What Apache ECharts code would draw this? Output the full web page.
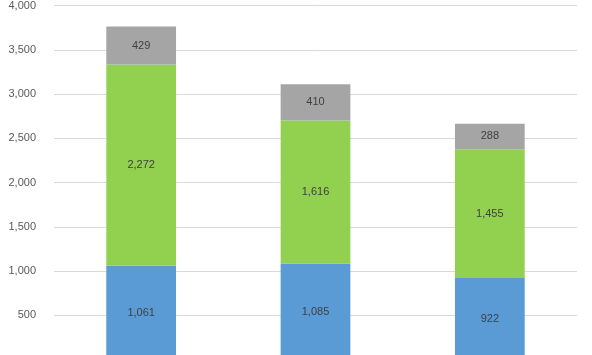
<!DOCTYPE html>
<html>
<head>
<meta charset="utf-8">
<script src="https://cdn.jsdelivr.net/npm/echarts@6/dist/echarts.min.js"></script>
<style>html,body{margin:0;padding:0;background:#fff;overflow:hidden;width:592px;height:355px;}#c{width:592px;height:364px;}</style>
</head>
<body>
<div id="c"></div>
<script>
var categories = ['A', 'B', 'C'];
var seriesBlue = [1061, 1085, 922];
var seriesGreen = [2272, 1616, 1455];
var seriesGray = [429, 410, 288];
var yTicks = [0, 500, 1000, 1500, 2000, 2500, 3000, 3500, 4000];

var chart = echarts.init(document.getElementById('c'), null, {renderer: 'canvas'});
var labelStyle = {
  show: true, position: 'inside', color: '#404040', fontSize: 11,
  fontFamily: 'Liberation Sans',
  formatter: function (p) { return p.value.toLocaleString('en-US'); }
};
function mk(name, data, color) {
  return {
    name: name, type: 'bar', stack: 'total', data: data, barWidth: '40%',
    itemStyle: {color: color}, label: labelStyle, animation: false
  };
}
chart.setOption({
  animation: false,
  grid: {left: 54, right: 15, top: 4.5, bottom: 4.5, containLabel: false},
  xAxis: {
    type: 'category', data: categories,
    axisLine: {show: false}, axisTick: {show: false}, axisLabel: {show: false}
  },
  yAxis: {
    type: 'value', min: yTicks[0], max: yTicks[yTicks.length - 1], interval: 500,
    axisLine: {show: false}, axisTick: {show: false},
    splitLine: {lineStyle: {color: '#D9D9D9', width: 1}},
    axisLabel: {
      color: '#595959', fontSize: 11, fontFamily: 'Liberation Sans', margin: 18,
      showMinLabel: false,
      formatter: function (v) { return v.toLocaleString('en-US'); }
    }
  },
  series: [
    mk('Blue', seriesBlue, '#5B9BD5'),
    mk('Green', seriesGreen, '#92D050'),
    mk('Gray', seriesGray, '#A5A5A5')
  ]
});
</script>
</body>
</html>
